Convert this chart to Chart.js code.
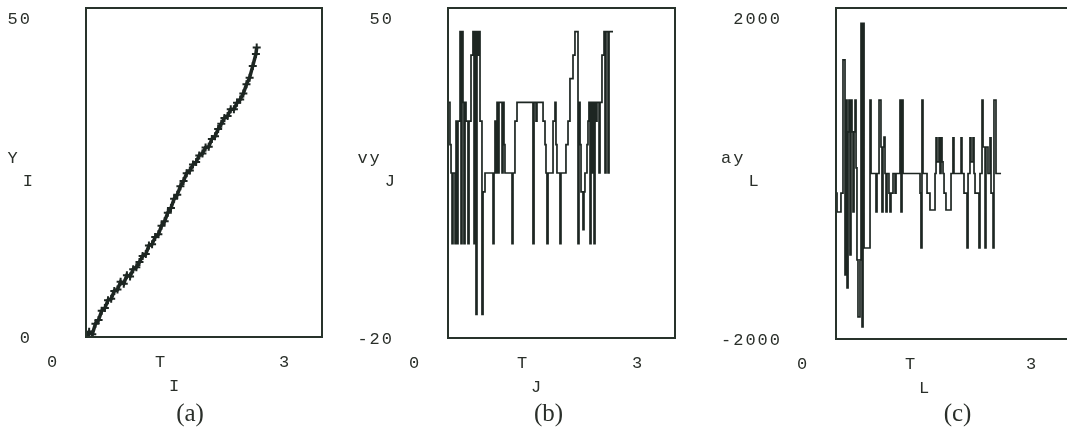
<!DOCTYPE html>
<html lang="en">
<head>
<meta charset="UTF-8">
<title>Y, vy, ay against T</title>
<script src="https://cdn.jsdelivr.net/npm/chart.js"></script>
<style>
    html, body {
        margin: 0;
        padding: 0;
        background: #ffffff;
        width: 1067px;
        height: 436px;
        overflow: hidden;
    }
    .panel {
        position: absolute;
        top: 0;
        height: 436px;
    }
</style>
</head>
<body>
<div class="panel" style="left:0px;width:340px"><canvas id="chartA" width="340" height="436"></canvas></div>
<div class="panel" style="left:350px;width:340px"><canvas id="chartB" width="340" height="436"></canvas></div>
<div class="panel" style="left:700px;width:380px"><canvas id="chartC" width="380" height="436"></canvas></div>

<script>
// (a) position Y_I over time
const aTime = [0.00, 0.04, 0.08, 0.12, 0.16, 0.20, 0.24, 0.28, 0.32, 0.36, 0.40, 0.44, 0.48, 0.52,
    0.56, 0.60, 0.64, 0.68, 0.72, 0.76, 0.80, 0.84, 0.88, 0.92, 0.96, 1.00, 1.04, 1.08, 1.12, 1.16,
    1.20, 1.24, 1.28, 1.32, 1.36, 1.40, 1.44, 1.48, 1.52, 1.56, 1.60, 1.64, 1.68, 1.72, 1.76, 1.80,
    1.84, 1.88, 1.92, 1.96, 2.00, 2.04, 2.08, 2.12, 2.16, 2.17];
const aY = [0.2, 0.8, 0.4, 2.0, 2.6, 4.0, 4.4, 5.6, 5.8, 7.0, 7.2, 8.4, 8.1, 9.4,
    9.2, 10.3, 10.6, 11.4, 12.3, 12.6, 13.9, 14.1, 15.2, 15.6, 16.9, 17.6, 18.9, 19.6, 21.0, 21.6,
    22.9, 23.7, 24.9, 25.3, 26.2, 26.6, 27.6, 27.9, 28.8, 28.9, 30.1, 30.5, 31.6, 32.4, 33.3, 33.6,
    34.6, 34.6, 35.6, 36.1, 37.0, 38.4, 39.4, 41.2, 43.0, 44.0];

// (b) velocity vy_J, held between samples
const bTime = [0.000, 0.026, 0.040, 0.053, 0.066, 0.093, 0.106, 0.119, 0.132, 0.159, 0.172, 0.185,
    0.198, 0.211, 0.225, 0.238, 0.264, 0.278, 0.304, 0.330, 0.344, 0.357, 0.370, 0.383, 0.396, 0.410,
    0.423, 0.449, 0.463, 0.489, 0.595, 0.608, 0.621, 0.634, 0.648, 0.661, 0.674, 0.714, 0.727, 0.740,
    0.753, 0.846, 0.859, 0.885, 0.912, 1.123, 1.137, 1.163, 1.176, 1.256, 1.282, 1.295, 1.308, 1.322,
    1.388, 1.414, 1.427, 1.440, 1.480, 1.493, 1.559, 1.586, 1.612, 1.652, 1.678, 1.718, 1.731, 1.745,
    1.758, 1.784, 1.797, 1.810, 1.837, 1.850, 1.863, 1.877, 1.890, 1.903, 1.916, 1.930, 1.943, 1.956,
    1.969, 1.996, 2.009, 2.035, 2.062, 2.075, 2.088, 2.115, 2.128, 2.181];
const bVy = [30, 21, 15, 0, 15, 0, 26, 0, 26, 45, 0, 45,
    30, 0, 30, 26, 0, 26, 40, 45, 0, 45, -15, 45, 40, 45,
    26, -15, 11, 15, 0, 15, 26, 15, 30, 15, 30, 15, 30, 21,
    15, 0, 15, 26, 30, 0, 30, 26, 30, 26, 21, 15, 0, 15,
    26, 30, 21, 15, 0, 15, 21, 26, 35, 40, 45, 0, 30, 21,
    11, 3, 11, 15, 21, 26, 30, 0, 30, 15, 30, 0, 30, 26,
    30, 15, 30, 40, 45, 15, 45, 15, 45, 45];

// (c) acceleration ay_L, held between samples
const cTime = [0.000, 0.013, 0.064, 0.090, 0.116, 0.129, 0.142, 0.155, 0.167, 0.180, 0.193, 0.206,
    0.219, 0.232, 0.245, 0.258, 0.270, 0.283, 0.309, 0.322, 0.335, 0.348, 0.361, 0.438, 0.451, 0.515,
    0.528, 0.554, 0.579, 0.592, 0.605, 0.618, 0.631, 0.644, 0.657, 0.682, 0.695, 0.708, 0.734, 0.760,
    0.773, 0.824, 0.837, 0.850, 0.863, 1.082, 1.094, 1.107, 1.120, 1.172, 1.210, 1.275, 1.288, 1.300,
    1.326, 1.339, 1.352, 1.365, 1.378, 1.391, 1.416, 1.481, 1.506, 1.519, 1.610, 1.622, 1.648, 1.687,
    1.700, 1.725, 1.738, 1.764, 1.777, 1.790, 1.841, 1.854, 1.880, 1.893, 1.919, 1.931, 1.957, 1.983,
    1.996, 2.022, 2.034, 2.060, 2.125];
const cAy = [-236, -465, -236, 1372, -1226, 888, -1383, 502, 888, -985, 888, 502,
    -465, 502, 888, 67, -1045, -1733, -1045, 1815, -1855, 1815, -900, 888, 0, -465,
    0, 888, 320, -465, 320, 440, 0, -465, 0, -236, -465, -236, 0, -236,
    0, 888, -465, 888, 0, -236, -900, 888, 0, -236, -441, 0, 430, 140,
    430, 0, 430, 140, 0, -236, -441, 0, 430, 0, 430, 0, -236, -900,
    0, 430, 140, 430, 0, -236, -900, 0, 888, 320, -900, 320, 0, 430,
    -236, -900, 888, 0, 0];

const tRange = [0, 3];

const inkColor = '#1d2622';
const frameColor = '#28332b';
const textColor = '#2a2f2a';
const monoFont = '17px "Liberation Mono", "DejaVu Sans Mono", monospace';
const captionFont = '25px "Liberation Serif", "DejaVu Serif", serif';

// frame, corner limits and axis names in the old worksheet style
const worksheetFrame = {
    id: 'worksheetFrame',
    afterDraw(chart, args, opts) {
        const ctx = chart.ctx;
        const area = chart.chartArea;
        const xs = chart.scales.x;
        const ys = chart.scales.y;
        ctx.save();

        ctx.strokeStyle = frameColor;
        ctx.lineWidth = 2;
        ctx.strokeRect(area.left, area.top, area.right - area.left, area.bottom - area.top);

        ctx.fillStyle = textColor;
        ctx.font = monoFont;
        ctx.letterSpacing = '2px';
        ctx.textBaseline = 'middle';

        // y limits, top and bottom corners
        const labelRight = area.left - 54;
        ctx.textAlign = 'right';
        ctx.fillText(opts.yTop, labelRight, ys.getPixelForValue(ys.max) + 11);
        ctx.fillText(opts.yBottom, labelRight, ys.getPixelForValue(ys.min) + 1);

        // x limits
        const xRow = area.bottom + 25;
        ctx.textAlign = 'center';
        ctx.fillText('0', xs.getPixelForValue(tRange[0]) - 33, xRow);
        ctx.fillText('3', xs.getPixelForValue(tRange[1]) - 37, xRow);

        // x name with subscript
        ctx.fillText('T', area.left + 75, xRow);
        ctx.fillText(opts.sub, area.left + 89, xRow + 24);

        // y name, lined up with the widest limit label
        const widest = Math.max(ctx.measureText(opts.yTop).width, ctx.measureText(opts.yBottom).width);
        const nameLeft = labelRight - widest;
        ctx.textAlign = 'left';
        ctx.fillText(opts.yName, nameLeft, 158);
        const nameWidth = ctx.measureText(opts.yName).width;
        ctx.fillText(opts.sub, nameLeft + nameWidth + 3, 181);

        // panel caption
        ctx.letterSpacing = '0px';
        ctx.font = captionFont;
        ctx.textAlign = 'center';
        ctx.fillText(opts.caption, (area.left + area.right) / 2 + opts.captionShift, 414);

        ctx.restore();
    }
};

function toPoints(times, values) {
    return times.map((t, i) => ({ x: t, y: values[i] }));
}

function makePanel(canvasId, dataset, yMin, yMax, padding, frameOpts) {
    return new Chart(document.getElementById(canvasId), {
        type: 'line',
        data: { datasets: [dataset] },
        options: {
            responsive: false,
            animation: false,
            events: [],
            layout: { padding: padding },
            scales: {
                x: { type: 'linear', min: tRange[0], max: tRange[1], display: false },
                y: { type: 'linear', min: yMin, max: yMax, display: false }
            },
            plugins: {
                legend: { display: false },
                tooltip: { enabled: false },
                worksheetFrame: frameOpts
            }
        },
        plugins: [worksheetFrame]
    });
}

const chartA = makePanel('chartA', {
    data: toPoints(aTime, aY),
    borderColor: inkColor,
    borderWidth: 3.5,
    pointStyle: 'cross',
    pointRadius: 4,
    pointBorderWidth: 2,
    pointBorderColor: inkColor,
    tension: 0
}, 0, 50, { left: 86, top: 8, right: 18, bottom: 99 },
    { yTop: '50', yBottom: '0', yName: 'Y', sub: 'I', caption: '(a)', captionShift: -14 });

const chartB = makePanel('chartB', {
    data: toPoints(bTime, bVy),
    borderColor: inkColor,
    borderWidth: 1.7,
    pointRadius: 0,
    stepped: 'before'
}, -20, 50, { left: 98, top: 8, right: 15, bottom: 98 },
    { yTop: '50', yBottom: '-20', yName: 'vy', sub: 'J', caption: '(b)', captionShift: -13 });

const chartC = makePanel('chartC', {
    data: toPoints(cTime, cAy),
    borderColor: inkColor,
    borderWidth: 1.7,
    pointRadius: 0,
    stepped: 'before'
}, -2000, 2000, { left: 136, top: 8, right: 11, bottom: 97 },
    { yTop: '2000', yBottom: '-2000', yName: 'ay', sub: 'L', caption: '(c)', captionShift: 5 });
</script>
</body>
</html>
